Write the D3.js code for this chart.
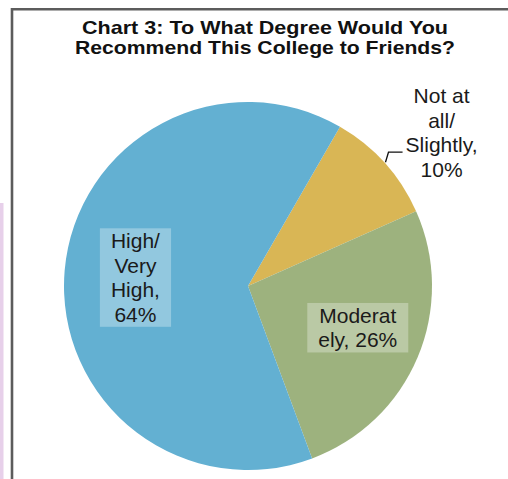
<!DOCTYPE html>
<html>
<head>
<meta charset="utf-8">
<script src="https://cdn.jsdelivr.net/npm/d3@7/dist/d3.min.js"></script>
<style>
  html, body { margin: 0; padding: 0; background: #ffffff; }
  svg { display: block; }
</style>
</head>
<body>
<svg id="chart" width="508" height="479"></svg>
<script>
// Survey responses: "To what degree would you recommend this college to friends?"
const categories = ["Not at all/ Slightly", "Moderately", "High/ Very High"];
const percents = [10, 26, 64];
const sliceColors = ["#d9b655", "#9db27e", "#63b0d2"];
// Label text, as wrapped on the chart; {v} is replaced by the slice value
const labelLines = [
  ["Not at", "all/", "Slightly,", "{v}%"],
  ["Moderat", "ely, {v}%"],
  ["High/", "Very", "High,", "{v}%"]
];
const titleLines = ["Chart 3: To What Degree Would You", "Recommend This College to Friends?"];

const W = 508, H = 479;
const svg = d3.select("#chart");

// side strip and frame
svg.append("rect").attr("x", 0).attr("y", 203).attr("width", 3.5).attr("height", H - 203)
  .attr("fill", "#e7d0ea");
svg.append("path")
  .attr("d", `M12,${H} L12,9.2 L${W},9.2`)
  .attr("fill", "none").attr("stroke", "#5c5c5c").attr("stroke-width", 2.6);

// title (wide setting, fitted to a fixed line length)
const titleWidths = [366, 380];
titleLines.forEach((t, i) => {
  svg.append("text")
    .attr("x", 265).attr("y", 33.5 + i * 20.5)
    .attr("text-anchor", "middle")
    .attr("font-family", "'Liberation Sans', Arial, sans-serif")
    .attr("font-weight", "bold").attr("font-size", 18.5).attr("fill", "#111")
    .attr("textLength", titleWidths[i]).attr("lengthAdjust", "spacingAndGlyphs")
    .text(t);
});

// pie
const cx = 248, cy = 286, R = 184;
const deg = Math.PI / 180;
const pie = d3.pie().sort(null).value(d => d.v)
  .startAngle(30 * deg).endAngle(390 * deg);
const data = categories.map((c, i) => ({ name: c, v: percents[i], color: sliceColors[i], lines: labelLines[i] }));
const arcs = pie(data);
const arc = d3.arc().innerRadius(0).outerRadius(R);

const g = svg.append("g").attr("transform", `translate(${cx},${cy})`);
g.selectAll("path.slice").data(arcs).enter().append("path")
  .attr("class", "slice")
  .attr("d", arc)
  .attr("fill", d => d.data.color);

// label placement: radius along the slice's mid-angle, plus a small nudge
const labelLayout = [
  { r: 247, dx: 10, dy: 12, boxed: false },
  { r: 118, dx: 1, dy: -4, boxed: true },
  { r: 113, dx: 0, dy: 1, boxed: true }
];
const lh = 24.5;
arcs.forEach((a, i) => {
  const L = labelLayout[i];
  const mid = (a.startAngle + a.endAngle) / 2;
  const lx = Math.sin(mid) * L.r + L.dx;
  const ly = -Math.cos(mid) * L.r + L.dy;
  const lg = g.append("g").attr("transform", `translate(${lx},${ly})`);
  const boxSel = lg.append("rect");
  const txt = lg.append("text")
    .attr("text-anchor", "middle")
    .attr("font-family", "'Liberation Sans', Arial, sans-serif")
    .attr("font-size", 21).attr("fill", "#1a1a1a");
  const lines = a.data.lines.map(s => s.replace("{v}", a.data.v));
  lines.forEach((s, k) => {
    txt.append("tspan").attr("x", 0)
      .attr("y", (k - (lines.length - 1) / 2) * lh)
      .attr("dominant-baseline", "central")
      .text(s);
  });
  const bb = txt.node().getBBox();
  if (L.boxed) {
    boxSel.attr("x", bb.x - 11).attr("y", bb.y - 1)
      .attr("width", bb.width + 22).attr("height", bb.height + 2)
      .attr("fill", "#ffffff").attr("fill-opacity", 0.3);
  } else {
    boxSel.remove();
    // leader from the slice edge to the label
    const sx = Math.sin(mid) * (R + 1), sy = -Math.cos(mid) * (R + 1);
    const ex = lx + bb.x - 3, ey = sy - 10;
    g.append("path")
      .attr("d", `M${sx},${sy} L${sx + 3},${ey} L${ex},${ey}`)
      .attr("fill", "none").attr("stroke", "#111").attr("stroke-width", 1.3);
  }
});
</script>
</body>
</html>
